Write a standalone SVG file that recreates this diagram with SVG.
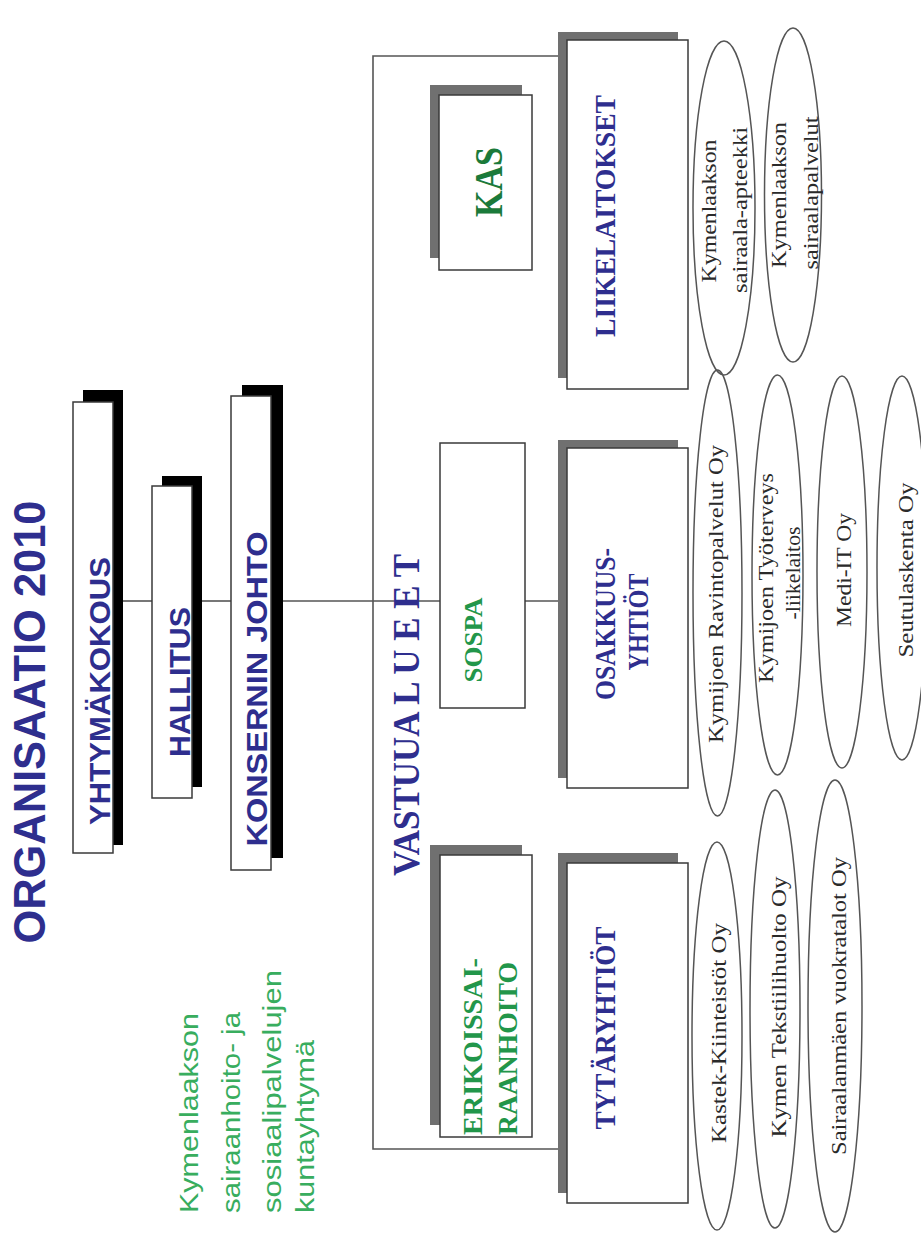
<svg xmlns="http://www.w3.org/2000/svg" width="921" height="1258" viewBox="0 0 921 1258">
<style>
.box{fill:#fff;stroke:#3a3a3a;stroke-width:1.5}
.shk{fill:#000}
.shg{fill:#707070}
.conn{stroke:#555;stroke-width:1.6;fill:none}
.ell{fill:none;stroke:#555;stroke-width:1.5}
.sans{font-family:"Liberation Sans",Arial,sans-serif;font-weight:bold;fill:#2e2e8e}
.serb{font-family:"Liberation Serif","Times New Roman",serif;font-weight:bold}
.blue{fill:#2e2e8e}
.green{fill:#22964a}
.dgreen{fill:#1b7a3a}
.lgreen{font-family:"Liberation Sans",Arial,sans-serif;fill:#38ad5e;font-size:25px}
.et{font-family:"Liberation Serif","Times New Roman",serif;fill:#2a2a2a;font-size:21px}
</style>
<rect width="921" height="1258" fill="#fff"/>

<g id="title">
<text class="sans" font-size="44" transform="translate(45,722) rotate(-90)" x="-221.5" textLength="443" lengthAdjust="spacingAndGlyphs">ORGANISAATIO 2010</text>
</g>

<g id="org-name">
<text class="lgreen" transform="translate(198,1213) rotate(-90)" textLength="200" lengthAdjust="spacingAndGlyphs">Kymenlaakson</text>
<text class="lgreen" transform="translate(240,1213) rotate(-90)" textLength="201" lengthAdjust="spacingAndGlyphs">sairaanhoito- ja</text>
<text class="lgreen" transform="translate(281,1213) rotate(-90)" textLength="243" lengthAdjust="spacingAndGlyphs">sosiaalipalvelujen</text>
<text class="lgreen" transform="translate(314,1213) rotate(-90)" textLength="173" lengthAdjust="spacingAndGlyphs">kuntayhtymä</text>
</g>

<g id="connectors">
<line class="conn" x1="123" y1="601" x2="152" y2="601"/>
<line class="conn" x1="202" y1="601" x2="231" y2="601"/>
<line class="conn" x1="283" y1="601" x2="440" y2="601"/>
<line class="conn" x1="525" y1="601" x2="558" y2="601"/>
<path class="conn" d="M560,56 H373 V1149 H560"/>
</g>

<g id="yhtymakokous">
<rect class="shk" x="83" y="390" width="40" height="455"/>
<rect class="box" x="73" y="402" width="40" height="451"/>
<text class="sans" font-size="30" transform="translate(110,691) rotate(-90)" x="-134" textLength="268" lengthAdjust="spacingAndGlyphs">YHTYMÄKOKOUS</text>
</g>

<g id="hallitus">
<rect class="shk" x="162" y="476" width="40" height="311"/>
<rect class="box" x="152" y="486" width="40" height="312"/>
<text class="sans" font-size="30" transform="translate(190,682) rotate(-90)" x="-75" textLength="150" lengthAdjust="spacingAndGlyphs">HALLITUS</text>
</g>

<g id="konsernin-johto">
<rect class="shk" x="242" y="385" width="41" height="473"/>
<rect class="box" x="231" y="396" width="40" height="474"/>
<text class="sans" font-size="30" transform="translate(267,689) rotate(-90)" x="-157.5" textLength="315" lengthAdjust="spacingAndGlyphs">KONSERNIN JOHTO</text>
</g>

<g id="vastuualueet">
<text class="serb blue" font-size="38" transform="translate(419,715) rotate(-90)" x="-161" textLength="322" lengthAdjust="spacingAndGlyphs">VASTUUA L U E E T</text>
</g>

<g id="kas">
<rect class="shg" x="430" y="85" width="92" height="173"/>
<rect class="box" x="439" y="95" width="93" height="175"/>
<text class="serb dgreen" font-size="40" transform="translate(502,182) rotate(-90)" x="-35" textLength="70" lengthAdjust="spacingAndGlyphs">KAS</text>
</g>

<g id="sospa">
<rect class="box" x="440" y="443" width="85" height="265"/>
<text class="serb green" font-size="26" transform="translate(482,640) rotate(-90)" x="-42.5" textLength="85" lengthAdjust="spacingAndGlyphs">SOSPA</text>
</g>

<g id="erikoissairaanhoito">
<rect class="shg" x="430" y="845" width="92" height="280"/>
<rect class="box" x="440" y="855" width="92" height="282"/>
<text class="serb green" font-size="28" transform="translate(482,1135) rotate(-90)" textLength="177" lengthAdjust="spacingAndGlyphs">ERIKOISSAI-</text>
<text class="serb green" font-size="28" transform="translate(517,1135) rotate(-90)" textLength="173" lengthAdjust="spacingAndGlyphs">RAANHOITO</text>
</g>

<g id="liikelaitokset">
<rect class="shg" x="558" y="32" width="120" height="346"/>
<rect class="box" x="567" y="40" width="121" height="349"/>
<text class="serb blue" font-size="29" transform="translate(615,216) rotate(-90)" x="-121" textLength="242" lengthAdjust="spacingAndGlyphs">LIIKELAITOKSET</text>
</g>

<g id="osakkuusyhtiot">
<rect class="shg" x="558" y="440" width="120" height="338"/>
<rect class="box" x="567" y="448" width="121" height="340"/>
<text class="serb blue" font-size="29" transform="translate(615,624) rotate(-90)" x="-76" textLength="152" lengthAdjust="spacingAndGlyphs">OSAKKUUS-</text>
<text class="serb blue" font-size="29" transform="translate(648,622) rotate(-90)" x="-48.5" textLength="97" lengthAdjust="spacingAndGlyphs">YHTIÖT</text>
</g>

<g id="tytaryhtiot">
<rect class="shg" x="558" y="853" width="120" height="340"/>
<rect class="box" x="567" y="863" width="121" height="340"/>
<text class="serb blue" font-size="29" transform="translate(615,1028) rotate(-90)" x="-101.5" textLength="203" lengthAdjust="spacingAndGlyphs">TYTÄRYHTIÖT</text>
</g>

<g id="sairaala-apteekki">
<ellipse class="ell" cx="724" cy="208" rx="31" ry="167"/>
<text class="et" transform="translate(716,211) rotate(-90)" x="-71.5" textLength="143" lengthAdjust="spacingAndGlyphs">Kymenlaakson</text>
<text class="et" transform="translate(747,210) rotate(-90)" x="-83" textLength="166" lengthAdjust="spacingAndGlyphs">sairaala-apteekki</text>
</g>

<g id="sairaalapalvelut">
<ellipse class="ell" cx="793" cy="195" rx="28.5" ry="167"/>
<text class="et" transform="translate(786,195) rotate(-90)" x="-73" textLength="146" lengthAdjust="spacingAndGlyphs">Kymenlaakson</text>
<text class="et" transform="translate(818,193) rotate(-90)" x="-76.5" textLength="153" lengthAdjust="spacingAndGlyphs">sairaalapalvelut</text>
</g>

<g id="ravintopalvelut">
<ellipse class="ell" cx="717.5" cy="593" rx="24.5" ry="223"/>
<text class="et" transform="translate(723,594) rotate(-90)" x="-149" textLength="298" lengthAdjust="spacingAndGlyphs">Kymijoen Ravintopalvelut Oy</text>
</g>

<g id="tyoterveys">
<ellipse class="ell" cx="777.5" cy="575" rx="25.5" ry="200"/>
<text class="et" transform="translate(773,578) rotate(-90)" x="-105" textLength="210" lengthAdjust="spacingAndGlyphs">Kymijoen Työterveys</text>
<text class="et" transform="translate(800,573) rotate(-90)" x="-46.5" textLength="93" lengthAdjust="spacingAndGlyphs">-liikelaitos</text>
</g>

<g id="medi-it">
<ellipse class="ell" cx="842" cy="572" rx="25" ry="196"/>
<text class="et" transform="translate(851,570) rotate(-90)" x="-57" textLength="114" lengthAdjust="spacingAndGlyphs">Medi-IT Oy</text>
</g>

<g id="seutulaskenta">
<ellipse class="ell" cx="902" cy="568" rx="25" ry="192"/>
<text class="et" transform="translate(913,570) rotate(-90)" x="-87.5" textLength="175" lengthAdjust="spacingAndGlyphs">Seutulaskenta Oy</text>
</g>

<g id="kastek">
<ellipse class="ell" cx="717" cy="1036" rx="25" ry="194"/>
<text class="et" transform="translate(726,1033) rotate(-90)" x="-110" textLength="220" lengthAdjust="spacingAndGlyphs">Kastek-Kiinteistöt Oy</text>
</g>

<g id="tekstiilihuolto">
<ellipse class="ell" cx="775" cy="1009" rx="25" ry="219"/>
<text class="et" transform="translate(786,1007) rotate(-90)" x="-130.5" textLength="261" lengthAdjust="spacingAndGlyphs">Kymen Tekstiilihuolto Oy</text>
</g>

<g id="vuokratalot">
<ellipse class="ell" cx="835" cy="1006" rx="27" ry="226"/>
<text class="et" transform="translate(846,1006) rotate(-90)" x="-149" textLength="298" lengthAdjust="spacingAndGlyphs">Sairaalanmäen vuokratalot Oy</text>
</g>
</svg>
